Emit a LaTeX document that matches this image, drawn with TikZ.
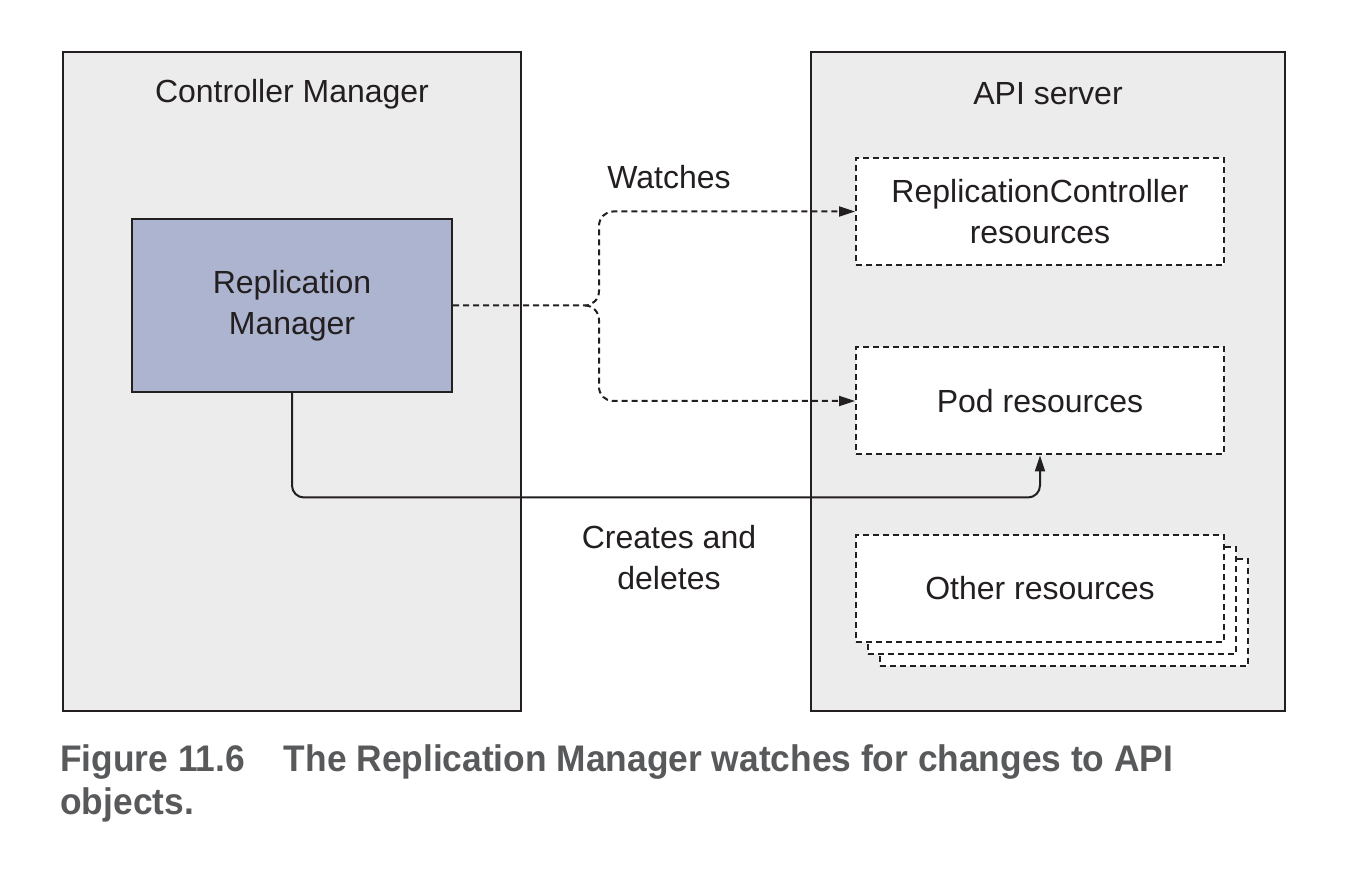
\documentclass[tikz,border=0pt]{standalone}
\usepackage{fontspec}
\setmainfont{Liberation Sans}
\usepackage{tikz}
\usetikzlibrary{arrows.meta}
\definecolor{panelgray}{HTML}{ECECEC}
\definecolor{rmblue}{HTML}{ADB4CF}
\definecolor{inkdark}{HTML}{231F20}
\definecolor{capgray}{HTML}{58595B}

\begin{document}
\begin{tikzpicture}[x=0.5pt,y=-0.5pt,
    every node/.style={font=\fontsize{16}{20.5}\selectfont, text=inkdark},
    panel/.style={draw=inkdark, line width=1pt, fill=panelgray, minimum width=#1, minimum height=329.5pt, inner sep=0pt},
    res/.style={draw=inkdark, line width=1pt, dash pattern=on 3pt off 2pt, fill=white, minimum width=184pt, minimum height=53.5pt, inner sep=0pt, align=center},
    watch/.style={draw=inkdark, line width=1pt, dash pattern=on 3pt off 2pt, -{Triangle[length=8pt,width=5pt]}},
    creates/.style={draw=inkdark, line width=1pt, rounded corners=6pt, -{Triangle[length=8pt,width=5pt]}}]
      \useasboundingbox (0,0) rectangle (1350,876);
      \node[panel=229pt] (ctrl) at (292,381.5) {};
      \node[panel=237pt] (api) at (1048,381.5) {};
      \node (ctrltitle) at (292,94) {Controller Manager};
      \node (apititle) at (1048,94) {API server};
      \node[draw=inkdark, line width=1pt, fill=rmblue, minimum width=160pt, minimum height=86.5pt, inner sep=0pt, align=center] (rm) at (292,305.5) {Replication\\Manager};
      \node[res] (rc) at (1040,211.5) {ReplicationController\\resources};
      \node[res] (pod) at (1040,401) {Pod resources};
      \node[res] (other3) at (1064,612.5) {};
      \node[res] (other2) at (1052,600.5) {};
      \node[res] (other) at (1040,588.5) {Other resources};
      \coordinate (split) at (585,305.5);
      \draw[watch] (rm.east) -- (split) to[out=0,in=-90] (599,291) -- (599,226) to[out=90,in=180] (613,211.5) -- (rc.west);
      \draw[watch] (split) to[out=0,in=90] (599,320) -- (599,387) to[out=-90,in=180] (613,401) -- (pod.west);
      \draw[creates] (rm.south) |- ([yshift=-21pt]pod.south) -- (pod.south);
      \node (watches) at (669,177) {Watches};
      \node[align=center] (creates) at (669,558) {Creates and\\deletes};
      \node[anchor=north west, align=left, inner sep=0pt, font=\fontsize{18.5}{21.5}\selectfont\bfseries, text=capgray] (caption) at (60,744) {\scalebox{0.955}[1]{Figure 11.6\hspace{1.1em}The Replication Manager watches for changes to API}\\\scalebox{0.955}[1]{objects.}};
    \end{tikzpicture}
\end{document}
